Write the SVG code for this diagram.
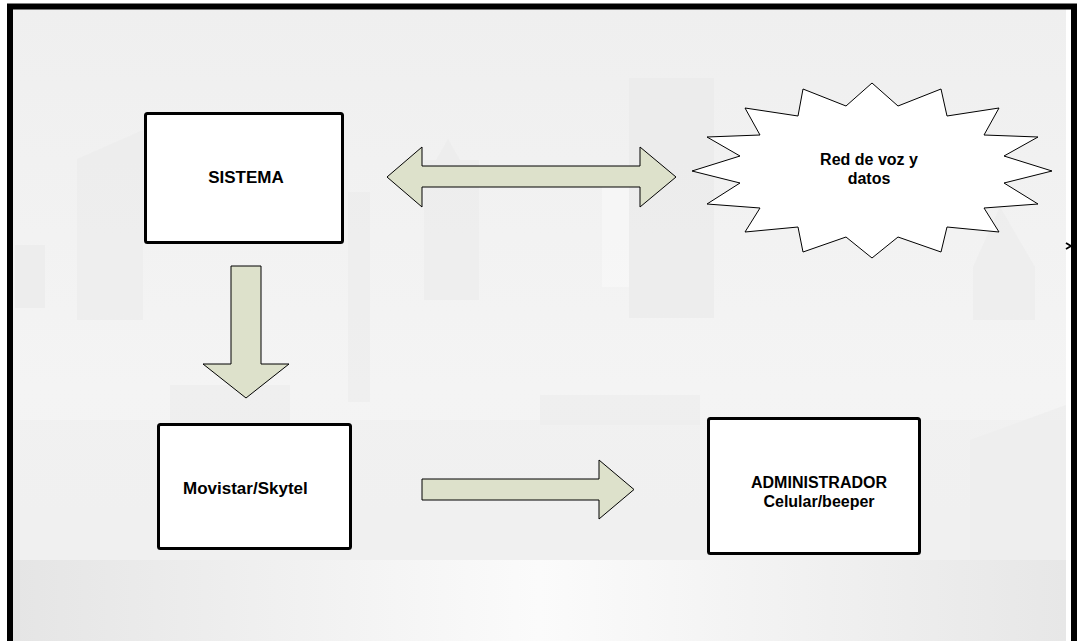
<svg xmlns="http://www.w3.org/2000/svg" width="1077" height="641" viewBox="0 0 1077 641">
<style>
.box{fill:#fff;stroke:#000;stroke-width:3;}
.arrow{fill:#dde1cb;stroke:#000;stroke-width:1;stroke-linejoin:miter;}
.lbl{font-family:"Liberation Sans",Arial,sans-serif;font-weight:bold;font-size:17px;fill:#000;}
.sm{font-size:16px;}
.bld{fill:#e9e9e9;opacity:0.6;}
.bld2{fill:#e9e9e9;opacity:0.45;}
.lite{fill:#f8f8f8;opacity:0.7;}
</style>
<defs>
<linearGradient id="sky" x1="0" y1="0" x2="0" y2="1">
<stop offset="0" stop-color="#efefef"/>
<stop offset="0.6" stop-color="#f4f4f4"/>
<stop offset="1" stop-color="#f2f2f2"/>
</linearGradient>
<linearGradient id="ground" x1="0" y1="0" x2="1" y2="0">
<stop offset="0" stop-color="#e5e5e5"/>
<stop offset="0.5" stop-color="#fbfbfb"/>
<stop offset="1" stop-color="#e7e7e7"/>
</linearGradient>
</defs>
<rect x="0" y="0" width="1077" height="641" fill="#fff"/>
<g id="background">
<rect x="13" y="9" width="1053" height="632" fill="url(#sky)"/>
<polygon class="bld2" points="77,159 143,130 143,320 77,320"/>
<rect class="bld" x="15" y="245" width="30" height="63"/>
<rect class="bld2" x="348" y="192" width="22" height="210"/>
<polygon class="bld2" points="424,160 436,160 448,139 460,160 479,160 479,300 424,300"/>
<rect class="bld" x="629" y="78" width="85" height="240"/>
<rect class="lite" x="602" y="180" width="27" height="107"/>
<polygon class="bld2" points="973,267 1000,207 1035,267 1035,320 973,320"/>
<rect class="bld2" x="170" y="385" width="120" height="40"/>
<rect class="bld2" x="540" y="395" width="160" height="30"/>
<polygon class="bld2" points="970,440 1066,405 1066,560 970,560"/>
<rect x="13" y="420" width="1053" height="140" fill="#ededed" opacity="0.5"/>
<rect x="13" y="560" width="1053" height="81" fill="url(#ground)"/>
</g>
<g id="frame">
<path d="M10,641 V6.5 H1074 V641" fill="none" stroke="#000" stroke-width="6"/>
<polyline points="1066,243 1071,246 1066,249" fill="none" stroke="#000" stroke-width="1.8"/>
</g>
<g id="connectors">
<polygon id="arrow-sistema-red" class="arrow" points="387,177 422,147 422,166 640,166 640,147 676,177 640,207 640,187 422,187 422,207"/>
<polygon id="arrow-sistema-movistar" class="arrow" points="231,266 261,266 261,364 289,364 246,398 203,364 231,364"/>
<polygon id="arrow-movistar-admin" class="arrow" points="422,479 599,479 599,460 634,489.5 599,519 599,500 422,500"/>
</g>
<g id="node-sistema">
<rect class="box" x="145.5" y="113.5" width="197" height="129" rx="2"/>
<text class="lbl" x="246" y="183" text-anchor="middle">SISTEMA</text>
</g>
<g id="node-red">
<polygon fill="#fff" stroke="#000" stroke-width="1" points="872,83 898,106 941,89 947,116 999,108 984,135 1038,137 1004,156 1052,171 1004,183 1038,204 984,208 999,232 947,227 941,252 898,237 872,258 846,237 803,252 798,227 745,232 760,208 707,204 740,183 692,171 740,156 707,137 760,135 745,108 798,116 803,89 846,106"/>
<text class="lbl sm" x="869" y="165" text-anchor="middle">Red de voz y</text>
<text class="lbl sm" x="869" y="184" text-anchor="middle">datos</text>
</g>
<g id="node-movistar">
<rect class="box" x="158.5" y="424.5" width="192" height="124" rx="2"/>
<text class="lbl" x="183" y="494">Movistar/Skytel</text>
</g>
<g id="node-admin">
<rect class="box" x="708.5" y="418.5" width="211" height="135" rx="2"/>
<text class="lbl sm" x="819" y="488" text-anchor="middle">ADMINISTRADOR</text>
<text class="lbl sm" x="819" y="507" text-anchor="middle">Celular/beeper</text>
</g>
</svg>
